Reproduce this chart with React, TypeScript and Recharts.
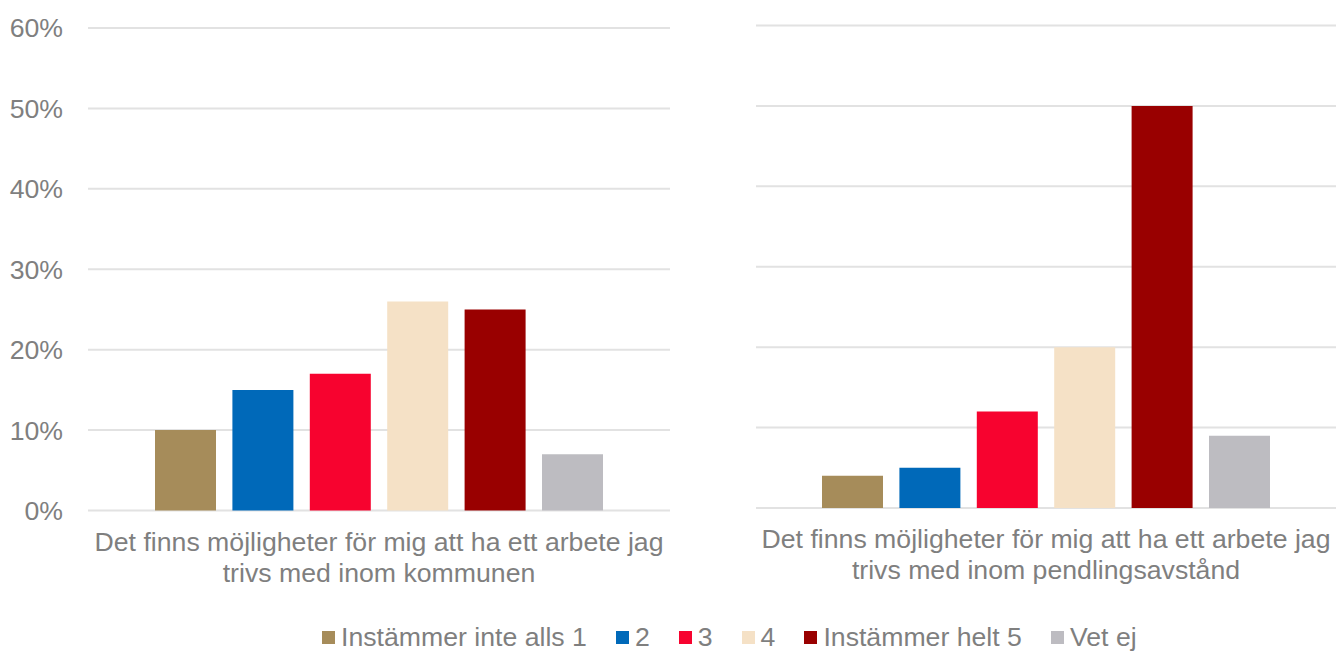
import React from "react";
import { BarChart, Bar, XAxis, YAxis, CartesianGrid } from "recharts";

// serier (svarsalternativ)
const seriesNames = ["Instämmer inte alls 1", "2", "3", "4", "Instämmer helt 5", "Vet ej"];
const seriesColors = ["#A68C5A", "#0069B9", "#F7032F", "#F5E1C6", "#990000", "#BDBCC1"];

// kategorier, en per diagram (radbrytning som i originalet)
const leftCategory = ["Det finns möjligheter för mig att ha ett arbete jag", "trivs med inom kommunen"];
const rightCategory = ["Det finns möjligheter för mig att ha ett arbete jag", "trivs med inom pendlingsavstånd"];

// andel i procent
const leftValues = [10, 15, 17, 26, 25, 7];
const rightValues = [4, 5, 12, 20, 50, 9];

const yTicks = [0, 10, 20, 30, 40, 50, 60];

const FONT = "'Liberation Sans', Arial, sans-serif";
const TEXT = "#7F7F7F";
const GRID = "#E2E2E2";

const toRow = (lines: string[], values: number[]) => {
  const row: Record<string, string | number> = { name: lines.join("\n") };
  values.forEach((v, i) => {
    row["s" + i] = v;
  });
  return [row];
};

const CategoryTick = (props: any) => {
  const { x, y, payload } = props;
  const lines = String(payload.value).split("\n");
  return (
    <text x={x} y={y} textAnchor="middle" fill={TEXT} fontSize={26.67} fontFamily={FONT}>
      {lines.map((l, i) => (
        <tspan key={i} x={x} dy={i === 0 ? 40 : 31}>
          {l}
        </tspan>
      ))}
    </text>
  );
};

const Panel = ({
  lines,
  values,
  showY,
  width,
  top,
}: {
  lines: string[];
  values: number[];
  showY: boolean;
  width: number;
  top: number;
}) => {
  const plotH = 482.5;
  const h = 600;
  return (
    <BarChart
      width={width}
      height={h}
      data={toRow(lines, values)}
      margin={{ top, right: showY ? 10 : 0, left: showY ? 0 : 76, bottom: 0 }}
      barSize={61}
      barGap={16.4}
    >
      <CartesianGrid vertical={false} stroke={GRID} strokeWidth={2} />
      <XAxis
        dataKey="name"
        axisLine={false}
        tickLine={false}
        tickSize={0}
        tickMargin={0}
        height={h - top - plotH}
        interval={0}
        tick={<CategoryTick />}
      />
      <YAxis
        hide={!showY}
        width={88}
        domain={[0, 60]}
        ticks={yTicks}
        axisLine={false}
        tickLine={false}
        tickSize={0}
        tickMargin={25}
        tickFormatter={(v: number) => v + "%"}
        tick={{ fill: TEXT, fontSize: 26.67, fontFamily: FONT }}
      />
      {seriesNames.map((n, i) => (
        <Bar key={n} dataKey={"s" + i} name={n} fill={seriesColors[i]} isAnimationActive={false} />
      ))}
    </BarChart>
  );
};

export default function App() {
  return (
    <div
      style={{
        position: "absolute",
        left: 0,
        top: 0,
        width: 1336,
        height: 651,
        background: "#fff",
        fontFamily: FONT,
      }}
    >
      <div style={{ position: "absolute", left: 0, top: 0 }}>
        <Panel lines={leftCategory} values={leftValues} showY width={680} top={28} />
      </div>
      <div style={{ position: "absolute", left: 680, top: 0 }}>
        <Panel lines={rightCategory} values={rightValues} showY={false} width={656} top={25.5} />
      </div>
      <div
        style={{
          position: "absolute",
          left: 322,
          top: 624,
          display: "flex",
          alignItems: "center",
          fontSize: 26.67,
          lineHeight: "26px",
          color: TEXT,
          whiteSpace: "nowrap",
        }}
      >
        {seriesNames.map((n, i) => (
          <div key={n} style={{ display: "flex", alignItems: "center", marginRight: i < seriesNames.length - 1 ? 29 : 0 }}>
            <span
              style={{ display: "inline-block", width: 13, height: 13, background: seriesColors[i], marginRight: 6 }}
            />
            <span>{n}</span>
          </div>
        ))}
      </div>
    </div>
  );
}
